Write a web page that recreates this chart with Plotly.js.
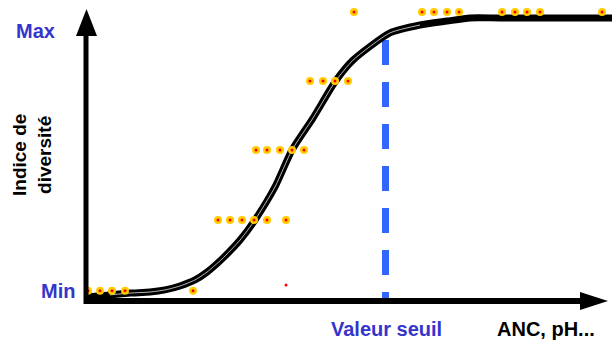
<!DOCTYPE html>
<html>
<head>
<meta charset="utf-8">
<script src="https://cdn.plot.ly/plotly-3.0.1.min.js"></script>
<style>
  html, body { margin: 0; padding: 0; background: #fff; }
  #chart { width: 612px; height: 342px; }
</style>
</head>
<body>
<div id="chart"></div>
<script>
// courbe de réponse (x = gradient ANC/pH, y = indice de diversité, 0 = Min, 1 = Max)
const curveX = [-0.4, 4.4, 8.4, 12.4, 15.4, 18.4, 21.4, 23.8, 26.8, 30.4, 33.4, 37.4, 40.8, 45, 49.4, 53, 60.4, 66.4, 71.8, 76.4, 82.4, 105];
const curveY = [-0.019, -0.011, -0.004, 0, 0.008, 0.023, 0.046, 0.076, 0.126, 0.198, 0.275, 0.401, 0.542, 0.664, 0.802, 0.885, 0.989, 1.019, 1.034, 1.046, 1.046, 1.046];

// observations (points jaunes)
const obsX = [0, 2.4, 4.8, 7.4, 21,
              26, 28.4, 30.8, 33.2, 35.8, 39.6,
              33.6, 35.8, 38.4, 40.8, 43.2,
              44.4, 47, 49.4, 52,
              53.2, 66.8, 69.2, 71.8, 74.2, 82.8, 85.4, 87.8, 90.4, 102.8];
const obsY = [0.005, 0.005, 0.005, 0.005, 0.005,
              0.275, 0.275, 0.275, 0.275, 0.275, 0.275,
              0.542, 0.542, 0.542, 0.542, 0.542,
              0.805, 0.805, 0.805, 0.805,
              1.069, 1.069, 1.069, 1.069, 1.069, 1.069, 1.069, 1.069, 1.069, 1.069];

// point isolé (rouge seulement)
const strayX = [39.6];
const strayY = [0.027];

// valeur seuil
const seuilX = [59.5, 59.5];
const seuilY = [0.962, -0.023];

const W = 612, H = 342;
// pixel -> paper helpers for the hand drawn axes
function px(x) { return x / W; }
function py(y) { return 1 - y / H; }

const blue = '#3535cc';
const font = 'Liberation Sans, Arial, sans-serif';

// the double stroke only shows on the rising part of the curve
const gapX = curveX.slice(1, 18);
const gapY = curveY.slice(1, 18);

const traces = [
    {
        x: seuilX, y: seuilY, mode: 'lines', hoverinfo: 'skip',
        line: {color: '#3366ff', width: 7, dash: '25px,17px'}
    },
    {
        x: curveX, y: curveY, mode: 'lines', hoverinfo: 'skip',
        line: {color: '#000', width: 7, shape: 'spline', smoothing: 0.6}
    },
    {
        x: gapX, y: gapY, mode: 'lines', hoverinfo: 'skip', opacity: 0.8,
        line: {color: '#fff', width: 0.9, shape: 'spline', smoothing: 0.6}
    },
    {
        x: obsX, y: obsY, mode: 'markers', hoverinfo: 'skip',
        marker: {color: '#ffcc00', size: 8}
    },
    {
        x: obsX.concat(strayX), y: obsY.concat(strayY), mode: 'markers', hoverinfo: 'skip',
        marker: {color: '#ff0000', size: 3}
    }
];

const layout = {
    width: W, height: H,
    margin: {l: 0, r: 0, t: 0, b: 0},
    paper_bgcolor: '#fff', plot_bgcolor: '#fff',
    showlegend: false,
    xaxis: {range: [-17.6, 104.8], visible: false, fixedrange: true},
    yaxis: {range: [-0.1908, 1.1145], visible: false, fixedrange: true},
    shapes: [
        // axe vertical + flèche
        {type: 'line', xref: 'paper', yref: 'paper', x0: px(86), x1: px(86), y0: py(304), y1: py(34),
         line: {color: '#000', width: 5}},
        {type: 'path', xref: 'paper', yref: 'paper',
         path: `M${px(76)},${py(36)} L${px(97)},${py(36)} L${px(86.5)},${py(9)} Z`,
         fillcolor: '#000', line: {width: 0}},
        // axe horizontal + flèche
        {type: 'line', xref: 'paper', yref: 'paper', x0: px(84), x1: px(582), y0: py(301), y1: py(301),
         line: {color: '#000', width: 6}},
        {type: 'path', xref: 'paper', yref: 'paper',
         path: `M${px(580)},${py(292)} L${px(580)},${py(310)} L${px(608)},${py(301)} Z`,
         fillcolor: '#000', line: {width: 0}}
    ],
    annotations: [
        {text: '<b>Max</b>', x: px(35), y: py(31), font: {family: font, size: 20, color: blue}},
        {text: '<b>Min</b>', x: px(58), y: py(291), font: {family: font, size: 20, color: blue}},
        {text: '<b>Indice de<br>diversité</b>', x: px(32), y: py(155), textangle: -90,
         font: {family: font, size: 19, color: '#000'}},
        {text: '<b>Valeur seuil</b>', x: px(386), y: py(329), font: {family: font, size: 20, color: blue}},
        {text: '<b>ANC, pH...</b>', x: px(546), y: py(329), font: {family: font, size: 20, color: '#000'}}
    ].map(a => Object.assign({xref: 'paper', yref: 'paper', showarrow: false,
                              xanchor: 'center', yanchor: 'middle'}, a))
};

Plotly.newPlot('chart', traces, layout, {staticPlot: true});
</script>
</body>
</html>
